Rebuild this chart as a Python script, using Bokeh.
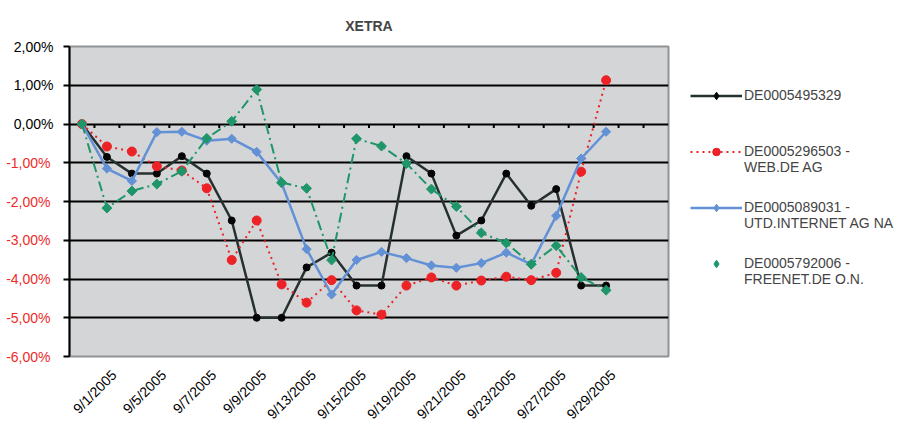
import numpy as np
from math import pi
from bokeh.plotting import figure
from bokeh.layouts import row
from bokeh.models import (FixedTicker, Legend, LegendItem, LinearAxis, Range1d, Title)
from bokeh.embed import file_html
from bokeh.resources import INLINE

# ---------------- data ----------------
dates = ["9/1/2005", "9/2/2005", "9/5/2005", "9/6/2005", "9/7/2005", "9/8/2005",
         "9/9/2005", "9/12/2005", "9/13/2005", "9/14/2005", "9/15/2005", "9/16/2005",
         "9/19/2005", "9/20/2005", "9/21/2005", "9/22/2005", "9/23/2005", "9/26/2005",
         "9/27/2005", "9/28/2005", "9/29/2005", "9/30/2005"]
n_categories = 24  # category axis has two empty trailing slots

# daily performance in percent
de0005495329 = [0.00, -0.85, -1.28, -1.28, -0.83, -1.28, -2.49, -5.00, -5.00, -3.70, -3.32,
                -4.17, -4.17, -0.83, -1.28, -2.88, -2.49, -1.28, -2.11, -1.68, -4.17, -4.17]
web_de = [0.00, -0.58, -0.71, -1.09, -1.20, -1.66, -3.51, -2.49, -4.14, -4.61, -4.03,
          -4.81, -4.92, -4.17, -3.96, -4.17, -4.04, -3.94, -4.03, -3.84, -1.23, 1.13]
utd_internet = [0.00, -1.15, -1.47, -0.21, -0.20, -0.43, -0.38, -0.72, -1.53, -3.23, -4.40,
                -3.51, -3.30, -3.46, -3.65, -3.71, -3.59, -3.32, -3.62, -2.37, -0.89, -0.20]
freenet = [0.00, -2.17, -1.73, -1.55, -1.22, -0.37, 0.07, 0.89, -1.51, -1.66, -3.51,
           -0.38, -0.57, -1.02, -1.68, -2.13, -2.81, -3.07, -3.62, -3.14, -3.96, -4.29]

series_names = [["DE0005495329"],
                ["DE0005296503 -", "WEB.DE AG"],
                ["DE0005089031 -", "UTD.INTERNET AG NA"],
                ["DE0005792006 -", "FREENET.DE O.N."]]

y_ticks = [-6, -5, -4, -3, -2, -1, 0, 1, 2]
y_tick_labels = ["-6,00%", "-5,00%", "-4,00%", "-3,00%", "-2,00%", "-1,00%",
                 "0,00%", "1,00%", "2,00%"]
chart_title = "XETRA"

# ---------------- styling ----------------
FONT = "Liberation Sans"
C_BLACK_LINE = "#263030"
C_BLACK_PT = "#050505"
C_RED = "#ec2226"
C_BLUE = "#6391d6"
C_GREEN = "#1f9669"
C_NEG_LABEL = "#ee2a2a"
NBSP = "\u00a0"

x_idx = list(range(len(dates)))
x_min, x_max = -0.5, n_categories - 0.5
y_min, y_max = y_ticks[0], y_ticks[-1]
lbl_shift = 1.28  # rotated date labels sit to the right of their category

p = figure(width=670, height=430,
           x_range=Range1d(x_min, x_max), y_range=Range1d(y_min, y_max),
           x_axis_type=None, output_backend="svg", toolbar_location=None,
           min_border_left=69, min_border_right=2, min_border_top=46,
           min_border_bottom=72)

p.background_fill_color = "#d4d5d7"
p.border_fill_color = "white"
p.outline_line_color = "#8f9396"
p.outline_line_width = 2

p.add_layout(Title(text=chart_title, text_font=FONT, text_font_size="14px",
                   text_font_style="bold", align="center", offset=-5,
                   standoff=25), "above")

# grid
p.ygrid.ticker = FixedTicker(ticks=y_ticks[1:-1])
p.ygrid.grid_line_color = "black"
p.ygrid.grid_line_width = 2

# y axis: black labels for non-negative values ...
yax = p.yaxis[0]
yax.ticker = FixedTicker(ticks=y_ticks)
yax.major_label_overrides = {t: (l if t >= 0 else "") for t, l in zip(y_ticks, y_tick_labels)}
yax.axis_line_color = "black"
yax.axis_line_width = 2
yax.major_tick_line_color = "black"
yax.major_tick_line_width = 2
yax.major_tick_out = 6
yax.major_tick_in = 0
yax.minor_tick_line_color = None
yax.major_label_standoff = 10
yax.major_label_text_font = FONT
yax.major_label_text_font_size = "14px"
yax.major_label_text_color = "black"

# ... and red labels for negative values (second axis pulled into the same column)
yax_neg = LinearAxis(ticker=FixedTicker(ticks=y_ticks),
                     major_label_overrides={t: (l if t < 0 else "")
                                            for t, l in zip(y_ticks, y_tick_labels)},
                     axis_line_color=None, major_tick_line_color=None,
                     minor_tick_line_color=None, major_tick_out=0, major_tick_in=0,
                     major_label_standoff=-40, major_label_text_font=FONT,
                     major_label_text_font_size="14px",
                     major_label_text_color=C_NEG_LABEL)
p.add_layout(yax_neg, "left")

# category tick marks on the 0% line
bounds = [i + 0.5 for i in range(n_categories - 1)]
tick_len = 0.1
p.segment(x0=bounds, y0=[0] * len(bounds), x1=bounds, y1=[-tick_len] * len(bounds),
          line_color="black", line_width=2)

# rotated date labels (every second category)
p.extra_x_ranges = {"lbl": Range1d(x_min - lbl_shift, x_max - lbl_shift)}
xlab = LinearAxis(x_range_name="lbl", ticker=FixedTicker(ticks=x_idx[::2]),
                  major_label_overrides={i: d for i, d in zip(x_idx[::2], dates[::2])},
                  major_label_orientation=pi / 4,
                  axis_line_color=None, major_tick_line_color=None,
                  minor_tick_line_color=None, major_tick_out=0, major_tick_in=0,
                  major_label_standoff=16, major_label_text_font=FONT,
                  major_label_text_font_size="14px", major_label_text_color="black")
p.add_layout(xlab, "below")

# series
line_styles = [dict(line_color=C_BLACK_LINE, line_width=2.5),
               dict(line_color=C_RED, line_width=2, line_dash="2 4"),
               dict(line_color=C_BLUE, line_width=2.5),
               dict(line_color=C_GREEN, line_width=2, line_dash="10 4 2 4")]
mark_styles = [dict(marker="circle", size=7, color=C_BLACK_PT),
               dict(marker="circle", size=9, color=C_RED),
               dict(marker="square", angle=pi / 4, size=6.5, color=C_BLUE),
               dict(marker="square", angle=pi / 4, size=7, color=C_GREEN)]
legend_marks = ["diamond", "circle", "diamond", "diamond"]

series = [de0005495329, web_de, utd_internet, freenet]
for vals, ls, ms in zip(series, line_styles, mark_styles):
    p.line(x_idx, vals, **ls)
    p.scatter(x_idx, vals, **ms)

# ---------------- legend (own panel to the right of the chart) ----------------
q = figure(width=231, height=430, x_range=Range1d(0, 1), y_range=Range1d(0, 1),
           x_axis_type=None, y_axis_type=None,
           output_backend="svg", toolbar_location=None,
           min_border_left=20, min_border_right=0, min_border_top=46,
           min_border_bottom=72)
q.outline_line_color = None
q.background_fill_color = "white"
q.border_fill_color = "white"

nan = [float("nan")]  # legend-only renderers: nothing is drawn in the panel itself
items = []
for i, (name, ls, ms, lm) in enumerate(zip(series_names, line_styles, mark_styles,
                                           legend_marks)):
    rs = []
    if i < 3:  # the FREENET entry shows its marker only
        rs.append(q.line(x=nan, y=nan, **ls))
    rs.append(q.scatter(x=nan, y=nan, marker=lm, color=ms["color"]))
    lines = name + [NBSP] * (2 - len(name))
    label = "\n".join([NBSP] + lines)
    items.append(LegendItem(label=label, renderers=rs))

legend = Legend(items=items, location=(0, 69), padding=0, margin=0, spacing=8,
                glyph_width=52, glyph_height=19, label_height=19, label_standoff=2,
                label_text_font=FONT, label_text_font_size="14px",
                border_line_color=None, background_fill_alpha=0)
q.add_layout(legend)

layout = row(p, q)
open("out.html", "w").write(file_html(layout, INLINE))
